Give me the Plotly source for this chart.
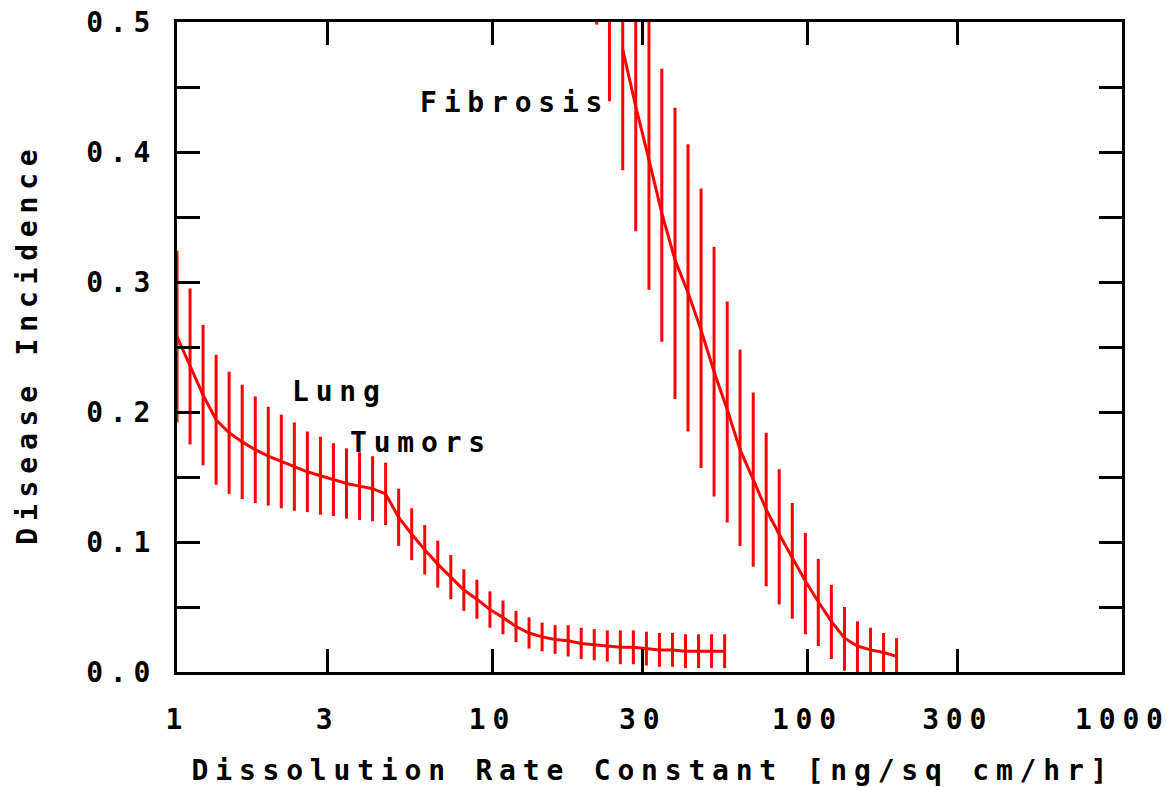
import math
import plotly.graph_objects as go

# ---------------- data ----------------
lung_x = [1.0, 1.1, 1.21, 1.331, 1.4641, 1.6105, 1.7716, 1.9487, 2.1436, 2.3579,
          2.5937, 2.8531, 3.1384, 3.4523, 3.7975, 4.1772, 4.595, 5.0545, 5.5599, 6.1159,
          6.7275, 7.4002, 8.1403, 8.9543, 9.8497, 10.835, 11.918, 13.11, 14.421, 15.863,
          17.449, 19.194, 21.114, 23.225, 25.548, 28.102, 30.913, 34.004, 37.404, 41.145,
          45.259, 49.785, 54.764]
lung_y = [0.258, 0.235, 0.213, 0.194, 0.184, 0.177, 0.171, 0.166, 0.162, 0.158,
          0.154, 0.151, 0.148, 0.145, 0.143, 0.141, 0.137, 0.119, 0.106, 0.094,
          0.083, 0.073, 0.063, 0.056, 0.048, 0.042, 0.035, 0.030, 0.027, 0.025,
          0.024, 0.022, 0.021, 0.020, 0.019, 0.019, 0.018, 0.017, 0.017, 0.016,
          0.016, 0.016, 0.016]
lung_err = [0.066, 0.060, 0.054, 0.050, 0.047, 0.044, 0.041, 0.038, 0.036, 0.034,
            0.031, 0.030, 0.028, 0.027, 0.026, 0.025, 0.024, 0.022, 0.020, 0.019,
            0.018, 0.017, 0.016, 0.015, 0.014, 0.013, 0.012, 0.012, 0.011, 0.011,
            0.012, 0.012, 0.012, 0.012, 0.013, 0.013, 0.013, 0.013, 0.013, 0.013,
            0.013, 0.013, 0.013]

fib_x = [21.5, 23.6, 26.0, 28.6, 31.5, 34.6, 38.1, 41.9, 46.1, 50.7, 55.8, 61.3,
         67.5, 74.2, 81.6, 89.8, 98.8, 108.6, 119.5, 131.5, 144.6, 159.1, 175.0, 192.5]
fib_y = [0.594, 0.535, 0.479, 0.435, 0.394, 0.353, 0.317, 0.292, 0.263, 0.231, 0.202, 0.171,
         0.148, 0.125, 0.106, 0.088, 0.070, 0.054, 0.039, 0.026, 0.020, 0.017, 0.015, 0.012]
fib_hi = [0.694, 0.640, 0.586, 0.540, 0.505, 0.464, 0.434, 0.406, 0.372, 0.327, 0.285, 0.248,
          0.215, 0.184, 0.156, 0.130, 0.107, 0.087, 0.067, 0.050, 0.039, 0.034, 0.030, 0.026]
fib_lo = [0.498, 0.439, 0.386, 0.339, 0.294, 0.254, 0.210, 0.185, 0.157, 0.135, 0.115, 0.097,
          0.081, 0.066, 0.052, 0.041, 0.029, 0.020, 0.010, 0.001, -0.001, -0.001, -0.001, -0.002]

x_tickvals = [1, 3, 10, 30, 100, 300, 1000]
x_ticktext = ["1", "3", "10", "30", "100", "300", "1000"]
y_tickvals = [0.0, 0.05, 0.1, 0.15, 0.2, 0.25, 0.3, 0.35, 0.4, 0.45, 0.5]
y_ticktext = ["0.0", "", "0.1", "", "0.2", "", "0.3", "", "0.4", "", "0.5"]

labels = ["Fibrosis", "Lung", "Tumors"]
label_x = [5.82, 2.28, 3.49]
label_y = [0.4377, 0.2156, 0.1764]

x_title = "Dissolution Rate Constant [ng/sq cm/hr]"
y_title = "Disease Incidence"

# ---------------- style ----------------
RED = "#ff0000"
FONT = "DejaVu Sans Mono"
FS = 28
LS = 6.8


def sp(t):
    # wide, evenly spaced lettering (no trailing gap after the last glyph)
    if len(t) < 2:
        return t
    return f'<span style="letter-spacing:{LS}px">{t[:-1]}</span>{t[-1]}'


fig = go.Figure()

# lung tumors
fig.add_trace(go.Scatter(
    x=lung_x, y=lung_y, mode="lines",
    line=dict(color=RED, width=3),
    error_y=dict(type="data", array=lung_err, symmetric=True, width=0,
                 thickness=3, color=RED),
    showlegend=False, hoverinfo="skip",
))

# fibrosis error bars
fig.add_trace(go.Scatter(
    x=fib_x, y=fib_y, mode="markers",
    marker=dict(size=1, color="rgba(0,0,0,0)"),
    error_y=dict(type="data", symmetric=False,
                 array=[h - c for h, c in zip(fib_hi, fib_y)],
                 arrayminus=[c - l for c, l in zip(fib_y, fib_lo)],
                 width=0, thickness=3, color=RED),
    showlegend=False, hoverinfo="skip",
))
# fibrosis curve (only inside the plotted range)
fig.add_trace(go.Scatter(
    x=[x for x, y in zip(fib_x, fib_y) if y <= 0.5],
    y=[y for y in fib_y if y <= 0.5],
    mode="lines", line=dict(color=RED, width=3),
    showlegend=False, hoverinfo="skip",
))

for t, lx, ly in zip(labels, label_x, label_y):
    fig.add_annotation(
        x=math.log10(lx), y=ly, xref="x", yref="y", text=sp(t),
        showarrow=False, xanchor="left", yanchor="middle",
        font=dict(family=FONT, size=FS, color="black", weight="bold"),
    )

axis_common = dict(
    showline=True, linewidth=3, linecolor="black", mirror="ticks",
    ticks="inside", ticklen=23, tickwidth=3, tickcolor="black",
    showgrid=False, zeroline=False, automargin=False,
    ticklabeloverflow="allow",
    tickfont=dict(family=FONT, size=FS, color="black", weight="bold"),
)

fig.update_layout(
    width=1167, height=787, autosize=False,
    margin=dict(l=177, r=45, t=22, b=115, pad=0),
    paper_bgcolor="white", plot_bgcolor="white",
    xaxis=dict(type="log", range=[0, 3], tickmode="array",
               tickvals=x_tickvals, ticktext=[sp(t) for t in x_ticktext],
               ticklabelstandoff=20, ticklabelshift=-3,
               title=dict(text=sp(x_title), standoff=34,
                          font=dict(family=FONT, size=FS, color="black", weight="bold")),
               **axis_common),
    yaxis=dict(range=[0, 0.5], tickmode="array",
               tickvals=y_tickvals, ticktext=[sp(t) for t in y_ticktext],
               ticklabelstandoff=18,
               title=dict(text=sp(y_title), standoff=41,
                          font=dict(family=FONT, size=FS, color="black", weight="bold")),
               **axis_common),
)

fig.write_html("out.html")
